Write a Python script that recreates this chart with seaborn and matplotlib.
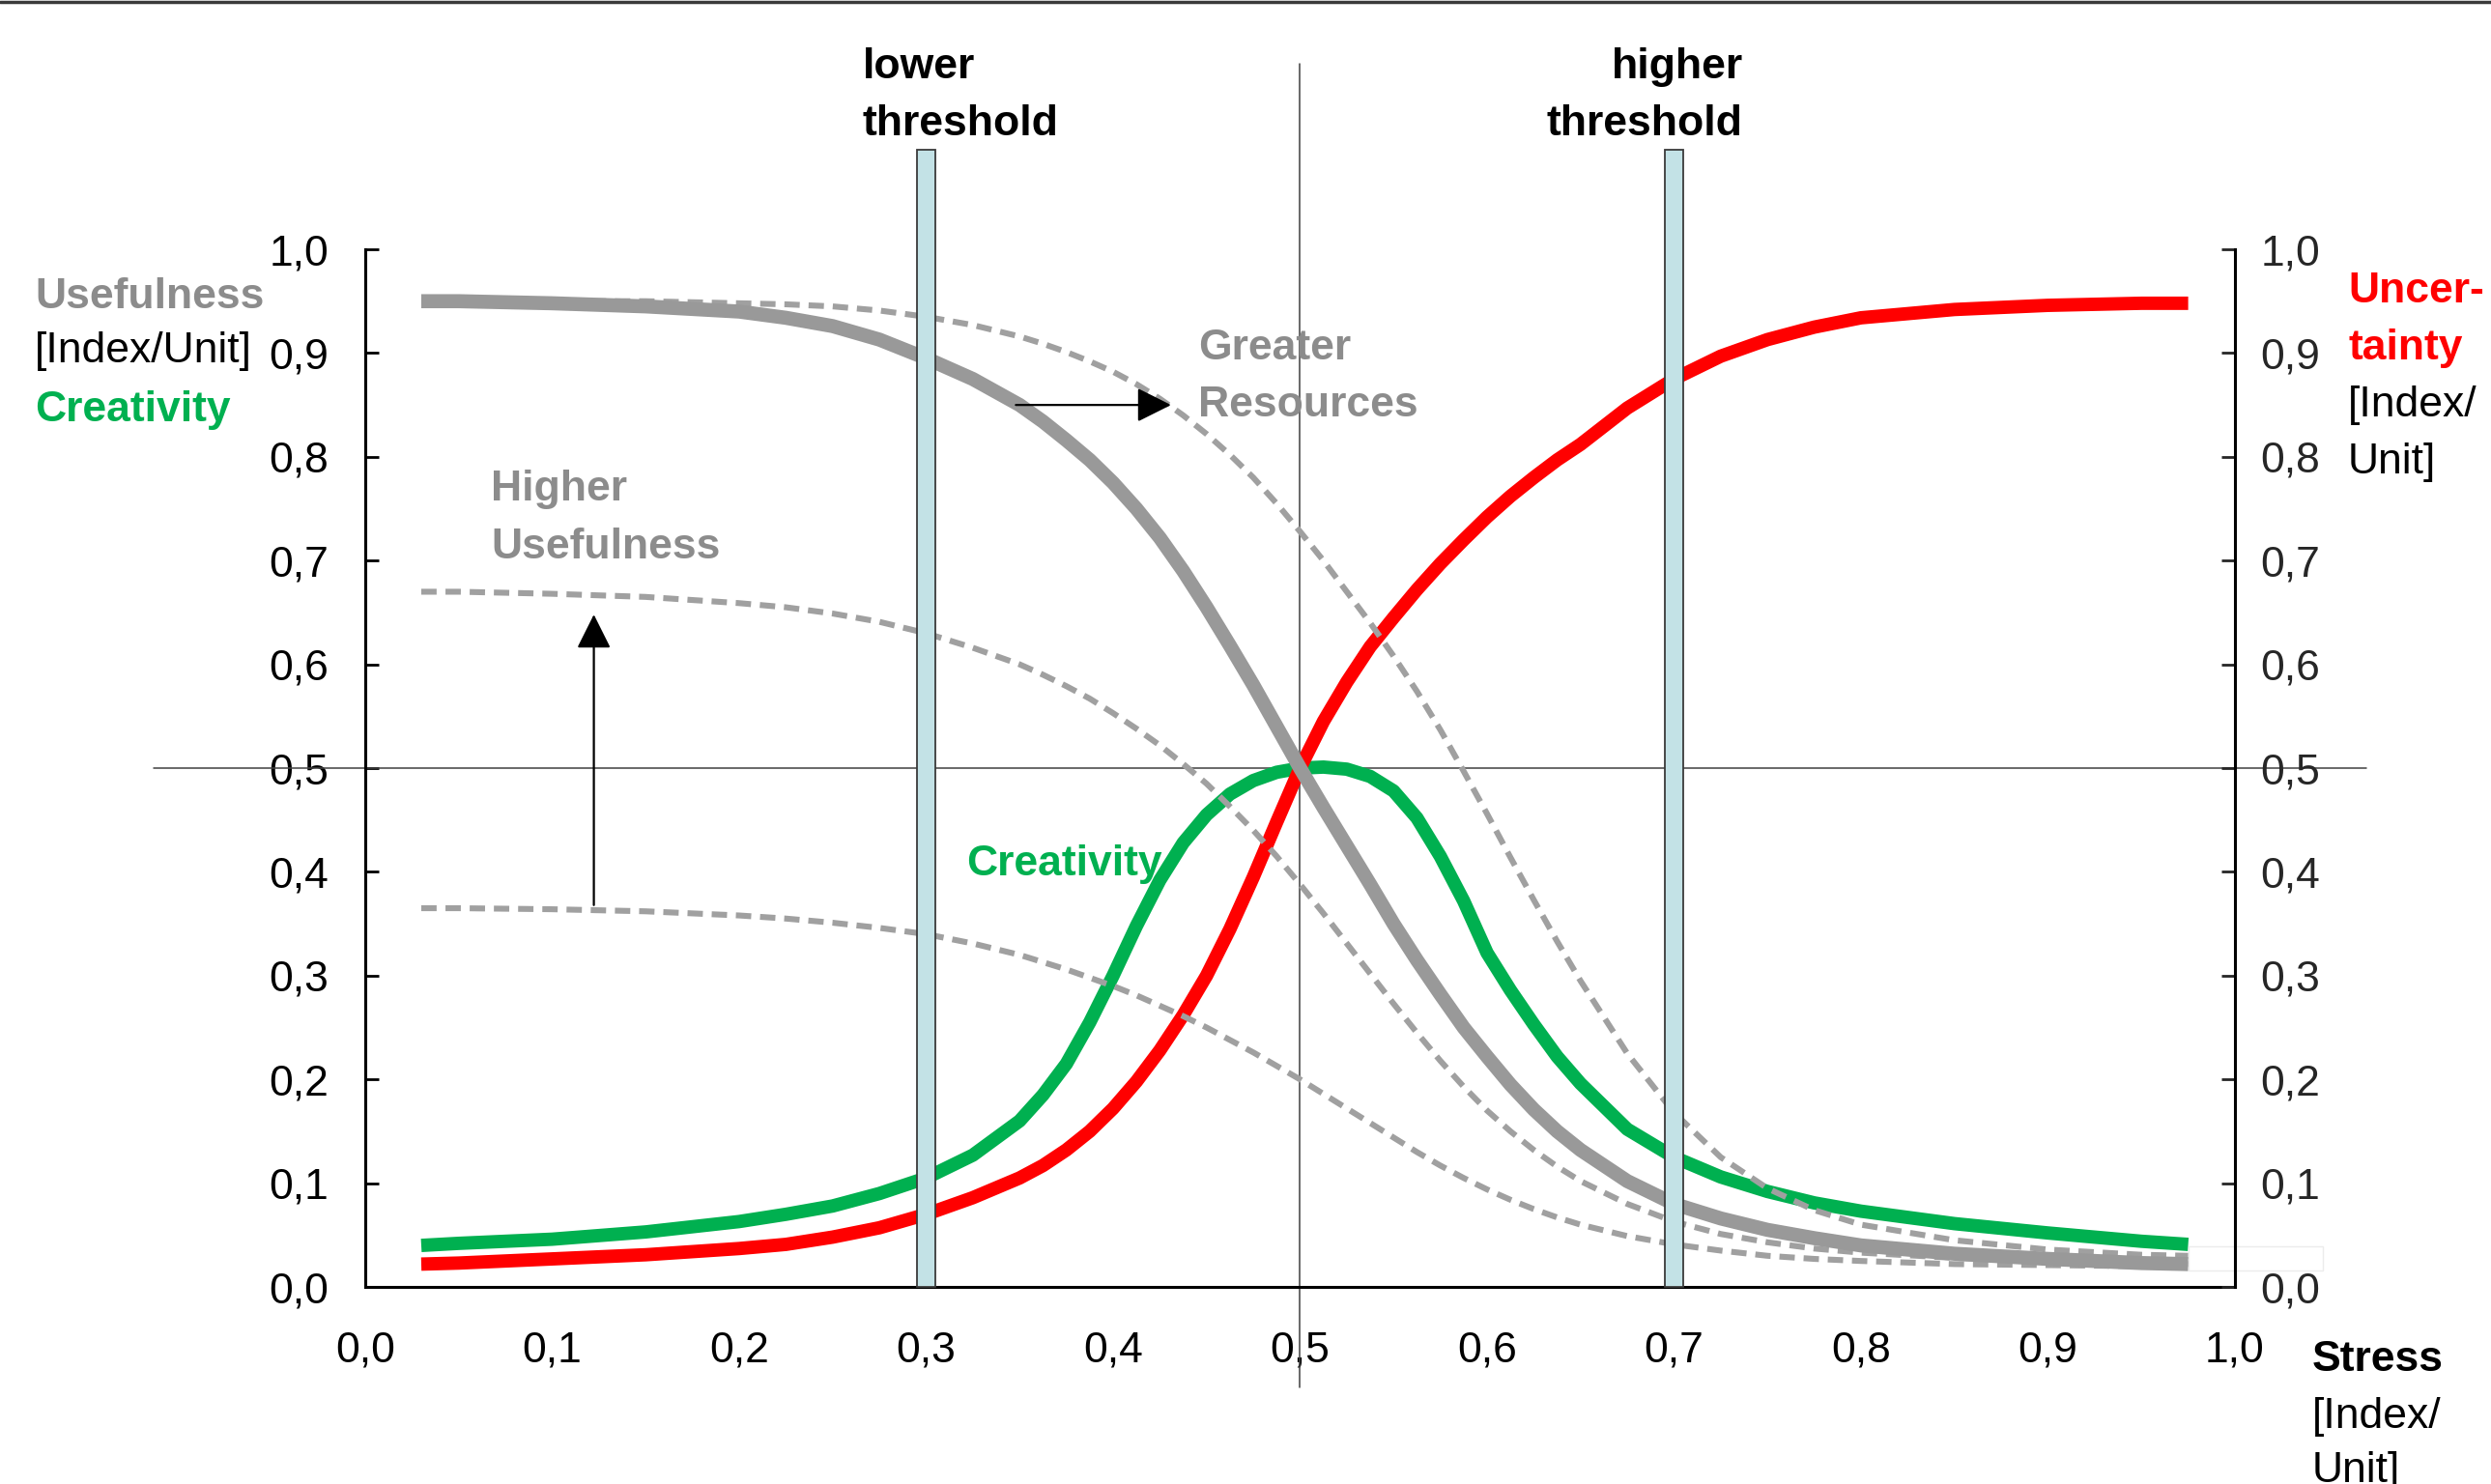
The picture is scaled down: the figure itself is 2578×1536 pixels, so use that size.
import numpy as np
import pandas as pd
import matplotlib
matplotlib.use("Agg")
import matplotlib.pyplot as plt
import seaborn as sns
from matplotlib.lines import Line2D
from matplotlib.patches import Rectangle

sns.set_style("white")
plt.rcParams['font.family'] = ['Liberation Sans', 'DejaVu Sans']

# ---------------- data ----------------
stress = [0.03, 0.05, 0.1, 0.15, 0.2, 0.225, 0.25, 0.275, 0.3, 0.325,
          0.35, 0.3625, 0.375, 0.3875, 0.4, 0.4125, 0.425, 0.4375, 0.45, 0.4625,
          0.475, 0.4875, 0.5, 0.5125, 0.525, 0.5375, 0.55, 0.5625, 0.575, 0.5875,
          0.6, 0.6125, 0.625, 0.6375, 0.65,
          0.675, 0.7, 0.725, 0.75, 0.775, 0.8, 0.85, 0.9, 0.95, 0.975]

usefulness = [0.950, 0.950, 0.948, 0.945, 0.940, 0.934, 0.926, 0.913, 0.895, 0.875,
              0.850, 0.834, 0.816, 0.797, 0.775, 0.750, 0.722, 0.690, 0.655, 0.618,
              0.580, 0.540, 0.500, 0.462, 0.425, 0.388, 0.350, 0.315, 0.282, 0.250,
              0.222, 0.195, 0.171, 0.150, 0.132,
              0.102, 0.080, 0.066, 0.055, 0.047, 0.040, 0.032, 0.027, 0.023, 0.022]

uncertainty = [0.022, 0.023, 0.027, 0.031, 0.037, 0.041, 0.048, 0.057, 0.070, 0.086,
               0.105, 0.117, 0.132, 0.150, 0.172, 0.198, 0.228, 0.262, 0.300, 0.345,
               0.395, 0.448, 0.500, 0.545, 0.583, 0.617, 0.645, 0.672, 0.697, 0.720,
               0.742, 0.762, 0.780, 0.797, 0.812,
               0.847, 0.875, 0.897, 0.913, 0.925, 0.934, 0.942, 0.946, 0.948, 0.948]

creativity = [0.040, 0.042, 0.046, 0.053, 0.063, 0.070, 0.078, 0.090, 0.105, 0.127,
              0.160, 0.185, 0.215, 0.255, 0.300, 0.348, 0.392, 0.428, 0.455, 0.475,
              0.488, 0.496, 0.500, 0.501, 0.499, 0.492, 0.478, 0.452, 0.415, 0.372,
              0.322, 0.286, 0.253, 0.222, 0.196,
              0.152, 0.125, 0.106, 0.092, 0.081, 0.073, 0.061, 0.052, 0.044, 0.041]

greater_resources = [0.950, 0.950, 0.950, 0.950, 0.948, 0.947, 0.945, 0.941, 0.935, 0.927,
                     0.916, 0.909, 0.901, 0.892, 0.882, 0.870, 0.856, 0.840, 0.822, 0.802,
                     0.780, 0.755, 0.728, 0.700, 0.670, 0.640, 0.608, 0.574, 0.537, 0.497,
                     0.456, 0.414, 0.373, 0.333, 0.295,
                     0.225, 0.168, 0.125, 0.095, 0.074, 0.060, 0.045, 0.036, 0.031, 0.030]

higher_usefulness = [0.670, 0.670, 0.668, 0.665, 0.659, 0.655, 0.649, 0.641, 0.630, 0.616,
                     0.600, 0.590, 0.579, 0.567, 0.553, 0.538, 0.522, 0.504, 0.485, 0.463,
                     0.440, 0.415, 0.388, 0.360, 0.331, 0.302, 0.273, 0.245, 0.218, 0.193,
                     0.170, 0.150, 0.132, 0.116, 0.102,
                     0.080, 0.063, 0.051, 0.043, 0.037, 0.033, 0.028, 0.025, 0.023, 0.022]

base_usefulness = [0.365, 0.365, 0.364, 0.362, 0.358, 0.355, 0.351, 0.346, 0.340, 0.331,
                   0.320, 0.313, 0.306, 0.298, 0.290, 0.281, 0.271, 0.261, 0.250, 0.238,
                   0.226, 0.213, 0.200, 0.186, 0.172, 0.158, 0.144, 0.130, 0.117, 0.105,
                   0.094, 0.084, 0.075, 0.067, 0.060,
                   0.049, 0.041, 0.035, 0.030, 0.027, 0.025, 0.022, 0.021, 0.020, 0.020]

thresholds = [0.3, 0.7]
x_ticks = [0.0, 0.1, 0.2, 0.3, 0.4, 0.5, 0.6, 0.7, 0.8, 0.9, 1.0]
y_ticks = [0.0, 0.1, 0.2, 0.3, 0.4, 0.5, 0.6, 0.7, 0.8, 0.9, 1.0]
tick_labels = [f"{v:.1f}".replace('.', ',') for v in x_ticks]

df = pd.DataFrame({
    "stress": stress,
    "usefulness": usefulness,
    "uncertainty": uncertainty,
    "creativity": creativity,
    "greater": greater_resources,
    "higher": higher_usefulness,
    "base": base_usefulness,
})

GRAY = '#999999'
DGRAY = '#a0a0a0'
TGRAY = '#8c8c8c'
GREEN = '#00b050'
RED = '#ff0000'
FS = 32

fig = plt.figure(figsize=(25.78, 15.36), dpi=100)
ax = fig.add_axes([0.1466, 0.1328, 0.7506, 0.6992])
ax.set_xlim(0, 1)
ax.set_ylim(0, 1)


def curve(col, color, width, z, dashed=False):
    sns.lineplot(data=df, x="stress", y=col, ax=ax, color=color, linewidth=width,
                 zorder=z)
    ln = ax.lines[-1]
    ln.set_linewidth(width)
    ln.set_zorder(z)
    if dashed:
        ln.set_dashes((2.6, 1.5))
        ln.set_dash_capstyle('butt')
    else:
        ln.set_solid_capstyle('butt')
        ln.set_solid_joinstyle('round')


for col in ["greater", "higher", "base"]:
    curve(col, DGRAY, 4.4, 3, dashed=True)
curve("creativity", GREEN, 10.0, 2)
curve("uncertainty", RED, 10.0, 2.5)
curve("usefulness", GRAY, 10.5, 4)

# reference lines through the centre
ax.plot([0.5, 0.5], [-0.097, 1.179], color='#404040', lw=1.1, zorder=1, clip_on=False)
ax.plot([-0.113, 1.0705], [0.5, 0.5], color='#404040', lw=1.1, zorder=1, clip_on=False)

# threshold bars
ax.bar(thresholds, [1.096] * len(thresholds), width=0.0095, color='#c3e2e6',
       edgecolor='#3a3a3a', linewidth=1.3, zorder=5, clip_on=False)

# faint box at the right end
ax.add_patch(Rectangle((0.975, 0.016), 0.072, 0.023, facecolor='white',
                       edgecolor='#ececec', lw=1, zorder=5.5, clip_on=False))

# arrows
arrow_kw = dict(arrowstyle='-|>,head_length=1.0,head_width=0.5', color='black',
                lw=1.6, mutation_scale=22, shrinkA=0, shrinkB=0)
ax.annotate("", xy=(0.431, 0.85), xytext=(0.348, 0.85), arrowprops=arrow_kw, zorder=6)
ax.annotate("", xy=(0.1223, 0.648), xytext=(0.1223, 0.368), arrowprops=arrow_kw, zorder=6)

# axes styling
ax.set_xlabel("")
ax.set_ylabel("")
ax.set_xticks(x_ticks)
ax.set_xticklabels(tick_labels)
ax.set_yticks(y_ticks)
ax.set_yticklabels(tick_labels)
for s in ['top', 'right']:
    ax.spines[s].set_visible(False)
for s in ['left', 'bottom']:
    ax.spines[s].set_linewidth(2.2)
    ax.spines[s].set_color('black')
ax.tick_params(axis='both', direction='in', length=10, width=2, labelsize=FS,
               colors='black')
ax.tick_params(axis='x', pad=33)
ax.tick_params(axis='y', pad=27)
ax.grid(False)

ax2 = ax.twinx()
ax2.set_ylim(0, 1)
ax2.set_yticks(y_ticks)
ax2.set_yticklabels(tick_labels)
for s in ['top', 'left', 'bottom']:
    ax2.spines[s].set_visible(False)
ax2.spines['right'].set_linewidth(2.2)
ax2.spines['right'].set_color('black')
ax2.tick_params(axis='y', direction='in', length=10, width=2, labelsize=FS, pad=19)
ax2.grid(False)


# texts
def ftext(x, y, s, color='black', weight='normal', ha='left'):
    fig.text(x, y, s, color=color, fontsize=FS, fontweight=weight, ha=ha, va='center')


ftext(0.0140, 0.800, "Usefulness", TGRAY, 'bold')
ftext(0.0140, 0.7634, "[Index/Unit]")
ftext(0.0140, 0.7238, "Creativity", GREEN, 'bold')

ftext(0.9426, 0.8040, "Uncer-", RED, 'bold')
ftext(0.9426, 0.7655, "tainty", RED, 'bold')
ftext(0.9426, 0.727, "[Index/")
ftext(0.9426, 0.6884, "Unit]")

ftext(0.928, 0.0835, "Stress", 'black', 'bold')
ftext(0.928, 0.045, "[Index/")
ftext(0.928, 0.0086, "Unit]")

ftext(0.3463, 0.955, "lower", 'black', 'bold')
ftext(0.3463, 0.9165, "threshold", 'black', 'bold')
ftext(0.6996, 0.955, "higher", 'black', 'bold', ha='right')
ftext(0.6996, 0.9165, "threshold", 'black', 'bold', ha='right')

ftext(0.4809, 0.7655, "Greater", TGRAY, 'bold')
ftext(0.4809, 0.727, "Resources", TGRAY, 'bold')
ftext(0.1971, 0.6700, "Higher", TGRAY, 'bold')
ftext(0.1971, 0.6315, "Usefulness", TGRAY, 'bold')
ftext(0.3878, 0.4175, "Creativity", GREEN, 'bold')

# top border
fig.add_artist(Line2D([0, 1], [0.9988, 0.9988], transform=fig.transFigure,
                      color='#3a3a3a', lw=2.5))

fig.savefig("out.png", dpi=100, facecolor='white')
